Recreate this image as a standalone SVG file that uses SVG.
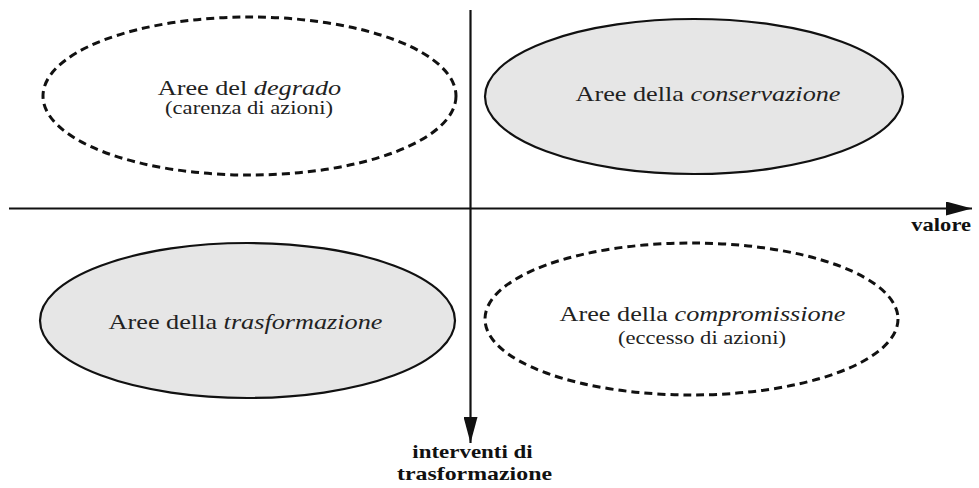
<svg xmlns="http://www.w3.org/2000/svg" width="979" height="488" viewBox="0 0 979 488">
  <style>
    .solid { fill: #e6e6e6; stroke: #111; stroke-width: 2.2; }
    .dashed { fill: none; stroke: #111; stroke-width: 3; stroke-dasharray: 8 5; }
    .lbl { font-family: "Liberation Serif", "Times New Roman", serif; font-size: 21.5px; fill: #222; text-anchor: middle; }
    .sub { font-family: "Liberation Serif", "Times New Roman", serif; font-size: 18.5px; fill: #222; text-anchor: middle; }
    .axl { font-family: "Liberation Serif", "Times New Roman", serif; font-size: 18.5px; font-weight: bold; fill: #111; }
    .axis { stroke: #111; stroke-width: 2.2; fill: none; }
    .it { font-style: italic; }
  </style>
  <defs>
    <marker id="arrow" viewBox="0 0 26 14" refX="26" refY="7" markerWidth="26" markerHeight="14" markerUnits="userSpaceOnUse" orient="auto">
      <path d="M0,0 L26,7 L0,14 Z" fill="#111"/>
    </marker>
  </defs>

  <g id="connectors">
    <line class="axis" x1="9" y1="208.5" x2="972" y2="208.5" marker-end="url(#arrow)"/>
    <line class="axis" x1="470.5" y1="10" x2="470.5" y2="443" marker-end="url(#arrow)"/>
    <text class="axl" text-anchor="end" transform="translate(971,231) scale(1.22,1)">valore</text>
    <text class="axl" text-anchor="middle" transform="translate(472.5,458) scale(1.24,1)">interventi di</text>
    <text class="axl" text-anchor="middle" transform="translate(474.5,480) scale(1.29,1)">trasformazione</text>
  </g>

  <g id="degrado">
    <ellipse class="dashed" cx="249.5" cy="96" rx="206.5" ry="79"/>
    <text class="lbl" transform="translate(249.5,95) scale(1.22,1)">Aree del <tspan class="it">degrado</tspan></text>
    <text class="sub" transform="translate(249,114) scale(1.22,1)">(carenza di azioni)</text>
  </g>

  <g id="conservazione">
    <ellipse class="solid" cx="694" cy="96.5" rx="209" ry="77.5"/>
    <text class="lbl" transform="translate(708,100.5) scale(1.22,1)">Aree della <tspan class="it">conservazione</tspan></text>
  </g>

  <g id="trasformazione">
    <ellipse class="solid" cx="247.5" cy="320.5" rx="207.5" ry="77.5"/>
    <text class="lbl" transform="translate(245.5,329) scale(1.22,1)">Aree della <tspan class="it">trasformazione</tspan></text>
  </g>

  <g id="compromissione">
    <ellipse class="dashed" cx="691.5" cy="319" rx="206.5" ry="76"/>
    <text class="lbl" transform="translate(702.5,321) scale(1.22,1)">Aree della <tspan class="it">compromissione</tspan></text>
    <text class="sub" transform="translate(702,344) scale(1.22,1)">(eccesso di azioni)</text>
  </g>
</svg>
